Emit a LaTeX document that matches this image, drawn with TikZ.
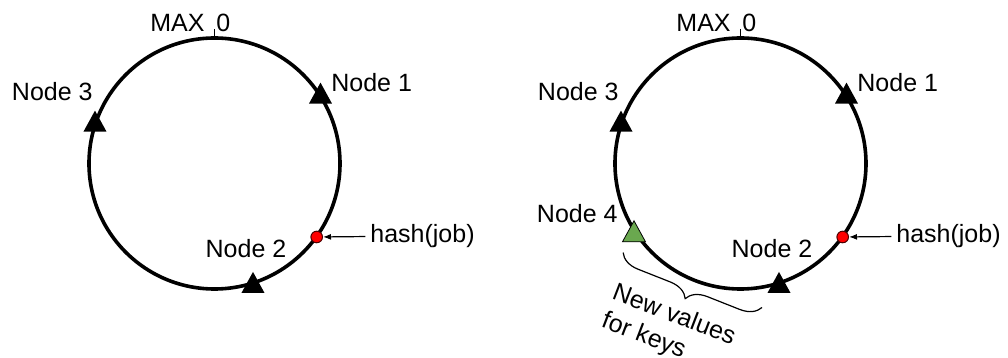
\documentclass[tikz,border=0pt]{standalone}
\usepackage{fontspec}
\setmainfont{Liberation Sans}
\usepackage{tikz}
\usetikzlibrary{shapes.geometric, arrows.meta, decorations.pathreplacing}
\definecolor{hashred}{RGB}{255,0,0}
\definecolor{newgreen}{RGB}{106,168,79}

\begin{document}
\begin{tikzpicture}[x=5pt, y=5pt,
    ring/.style={line width=1.8pt},
    peer/.style={isosceles triangle, isosceles triangle apex angle=50, isosceles triangle stretches,
        shape border rotate=90, minimum width=11.5pt, minimum height=10.5pt, inner sep=0pt,
        fill=black, anchor=lower side},
    keydot/.style={circle, draw=black!70!red, line width=0.5pt, fill=hashred, minimum size=5.8pt, inner sep=0pt},
    lbl/.style={inner sep=0pt, font=\fontsize{12.5}{15}\selectfont}]
    \useasboundingbox (-21.45,-19.45) rectangle (79.35,16.35);

    % Hash rings: before and after adding a node
    \foreach \c/\s in {0/L, 52.6/R} {
      \begin{scope}[shift={(\c,0)}]
        \draw[ring] (0,0) circle[radius=12.55];
        \coordinate (top\s) at (0,12.55);
        \coordinate (tick\s) at (0,13.45);
        \draw[line width=0.5pt] (top\s) -- (tick\s);
        \node[lbl, anchor=base east] (max\s) at (-0.95,13.15) {MAX};
        \node[lbl, anchor=base west] (zero\s) at (0.15,13.15) {0};

        % servers on the ring
        \node[peer] (n1\s) at (10.6,5.95) {};
        \node[peer] (n2\s) at (3.85,-12.98) {};
        \node[peer] (n3\s) at (-11.95,3.15) {};
        \node[lbl, anchor=west] (l1\s) at (11.65,8.05) {Node 1};
        \node[lbl] (l2\s) at (3.15,-8.55) {Node 2};
        \node[lbl, anchor=east] (l3\s) at (-12.15,7.15) {Node 3};

        % key position
        \node[keydot] (key\s) at (10.22,-7.35) {};
        \node[lbl, anchor=west] (hash\s) at (15.55,-7.3) {hash(job)};
        \draw[-{Latex[length=4pt,width=3pt]}, line width=0.6pt, shorten <=2.3pt] (hash\s.west) -- (key\s);
      \end{scope}
    }

    % New node and the keys it takes over
    \node[peer, fill=newgreen, draw=black, line width=0.4pt] (n4) at (41.95,-7.87) {};
    \node[lbl, anchor=east] (l4) at (40.35,-5.0) {Node 4};
    \coordinate (bstart) at (40.85,-8.9);
    \coordinate (bend) at (54.75,-14.4);
    \draw[decorate, decoration={brace, amplitude=10pt}, line width=0.6pt] (bend) -- (bstart);
    \node[lbl, align=left, anchor=north west, rotate=-21] (newvals) at (40.29,-11.8) {New values\\for keys};
\end{tikzpicture}
\end{document}
